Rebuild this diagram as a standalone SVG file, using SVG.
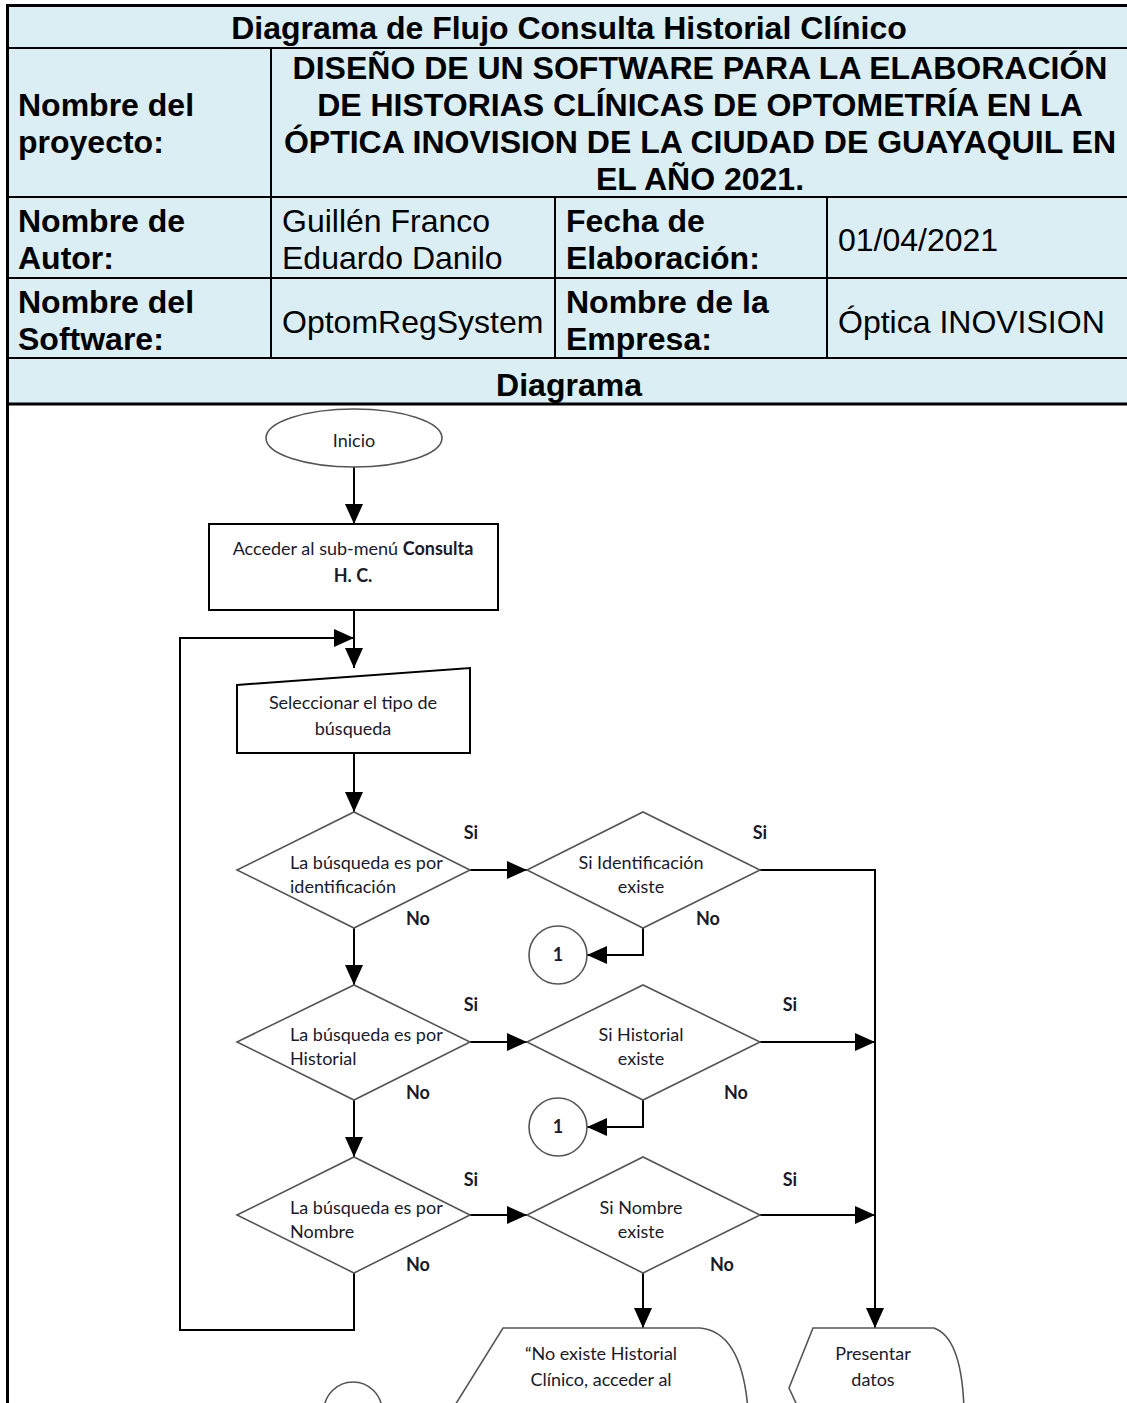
<svg xmlns="http://www.w3.org/2000/svg" width="1127" height="1403" viewBox="0 0 1127 1403">
<defs>
<style>
.hd{font-family:"Liberation Sans",Arial,sans-serif;font-size:32px;fill:#000}
.b{font-weight:bold}
.grid{stroke:#000;stroke-width:2;fill:none}
.ft{font-family:Lato,"Open Sans",sans-serif;font-size:18px;fill:#1a1a2a}
.lbl{font-family:Lato,"Open Sans",sans-serif;font-size:18px;font-weight:bold;fill:#1a1a2a}
.shape{fill:#fff;stroke:#000;stroke-width:2}
.dia{fill:#fff;stroke:#555;stroke-width:1.6}
.conn{fill:none;stroke:#000;stroke-width:2}
</style>
<marker id="ah" viewBox="0 0 20 18" refX="20" refY="9" markerWidth="20" markerHeight="18" markerUnits="userSpaceOnUse" orient="auto">
<path d="M0,0 L20,9 L0,18 z" fill="#000"/>
</marker>
</defs>
<rect width="1127" height="1403" fill="#fff"/>
<g id="table">
<rect x="7" y="6" width="1140" height="398" fill="#DAEEF3"/>
<line class="grid" x1="7" y1="48" x2="1127" y2="48"/>
<line class="grid" x1="7" y1="197" x2="1127" y2="197"/>
<line class="grid" x1="7" y1="278" x2="1127" y2="278"/>
<line class="grid" x1="7" y1="358" x2="1127" y2="358"/>
<line class="grid" x1="271" y1="48" x2="271" y2="358"/>
<line class="grid" x1="555" y1="197" x2="555" y2="358"/>
<line class="grid" x1="827" y1="197" x2="827" y2="358"/>
<line x1="7" y1="5.5" x2="1127" y2="5.5" stroke="#000" stroke-width="3"/>
<line x1="7" y1="404" x2="1127" y2="404" stroke="#000" stroke-width="3"/>
<line x1="7.5" y1="4" x2="7.5" y2="1403" stroke="#000" stroke-width="3"/>
<text class="hd b" x="569" y="39" text-anchor="middle">Diagrama de Flujo Consulta Historial Clínico</text>
<text class="hd b" x="18" y="116">Nombre del</text>
<text class="hd b" x="18" y="153">proyecto:</text>
<text class="hd b" x="700" y="79" text-anchor="middle">DISEÑO DE UN SOFTWARE PARA LA ELABORACIÓN</text>
<text class="hd b" x="700" y="116" text-anchor="middle">DE HISTORIAS CLÍNICAS DE OPTOMETRÍA EN LA</text>
<text class="hd b" x="700" y="153" text-anchor="middle">ÓPTICA INOVISION DE LA CIUDAD DE GUAYAQUIL EN</text>
<text class="hd b" x="700" y="190" text-anchor="middle">EL AÑO 2021.</text>
<text class="hd b" x="18" y="232">Nombre de</text>
<text class="hd b" x="18" y="269">Autor:</text>
<text class="hd" x="282" y="232">Guillén Franco</text>
<text class="hd" x="282" y="269">Eduardo Danilo</text>
<text class="hd b" x="566" y="232">Fecha de</text>
<text class="hd b" x="566" y="269">Elaboración:</text>
<text class="hd" x="838" y="251">01/04/2021</text>
<text class="hd b" x="18" y="313">Nombre del</text>
<text class="hd b" x="18" y="350">Software:</text>
<text class="hd" x="282" y="333">OptomRegSystem</text>
<text class="hd b" x="566" y="313">Nombre de la</text>
<text class="hd b" x="566" y="350">Empresa:</text>
<text class="hd" x="838" y="333">Óptica INOVISION</text>
<text class="hd b" x="569" y="396" text-anchor="middle">Diagrama</text>
</g>
<g id="connectors">
<path class="conn" d="M354,467 V524" marker-end="url(#ah)"/>
<path class="conn" d="M354,610 V668" marker-end="url(#ah)"/>
<path class="conn" d="M354,1273 V1330 H180 V638 H354" marker-end="url(#ah)"/>
<path class="conn" d="M354,753 V812" marker-end="url(#ah)"/>
<path class="conn" d="M470,870 H527" marker-end="url(#ah)"/>
<path class="conn" d="M760,870 H875 V1328" marker-end="url(#ah)"/>
<path class="conn" d="M643,928 V955 H587" marker-end="url(#ah)"/>
<path class="conn" d="M354,928 V985" marker-end="url(#ah)"/>
<path class="conn" d="M470,1042 H527" marker-end="url(#ah)"/>
<path class="conn" d="M760,1042 H875" marker-end="url(#ah)"/>
<path class="conn" d="M643,1100 V1127 H587" marker-end="url(#ah)"/>
<path class="conn" d="M354,1100 V1157" marker-end="url(#ah)"/>
<path class="conn" d="M470,1215 H527" marker-end="url(#ah)"/>
<path class="conn" d="M760,1215 H875" marker-end="url(#ah)"/>
<path class="conn" d="M643,1273 V1328" marker-end="url(#ah)"/>
</g>
<g id="inicio">
<ellipse class="dia" cx="354" cy="438" rx="88" ry="29"/>
<text class="ft" x="354" y="447" text-anchor="middle" font-size="20">Inicio</text>
</g>
<g id="acceder">
<rect class="shape" x="209" y="524" width="289" height="86"/>
<text class="ft" x="353" y="555" text-anchor="middle">Acceder al sub-menú <tspan font-weight="bold">Consulta</tspan></text>
<text class="ft" x="353" y="582" text-anchor="middle" font-weight="bold">H. C.</text>
</g>
<g id="seleccionar">
<polygon class="shape" points="237,685 470,668 470,753 237,753"/>
<text class="ft" x="353" y="709" text-anchor="middle">Seleccionar el tipo de</text>
<text class="ft" x="353" y="735" text-anchor="middle">búsqueda</text>
</g>
<g id="dec-ident">
<polygon class="dia" points="237,870 354,812 470,870 354,928"/>
<text class="ft" x="290" y="869">La búsqueda es por</text>
<text class="ft" x="290" y="893">identificación</text>
</g>
<g id="dec-ident-existe">
<polygon class="dia" points="527,870 643,812 760,870 643,928"/>
<text class="ft" x="641" y="869" text-anchor="middle">Si Identificación</text>
<text class="ft" x="641" y="893" text-anchor="middle">existe</text>
</g>
<g id="con1a">
<circle class="dia" cx="558" cy="955" r="29"/>
<text class="lbl" x="558" y="961" text-anchor="middle" font-size="16">1</text>
</g>
<g id="dec-hist">
<polygon class="dia" points="237,1042 354,985 470,1042 354,1100"/>
<text class="ft" x="290" y="1041">La búsqueda es por</text>
<text class="ft" x="290" y="1065">Historial</text>
</g>
<g id="dec-hist-existe">
<polygon class="dia" points="527,1042 643,985 760,1042 643,1100"/>
<text class="ft" x="641" y="1041" text-anchor="middle">Si Historial</text>
<text class="ft" x="641" y="1065" text-anchor="middle">existe</text>
</g>
<g id="con1b">
<circle class="dia" cx="558" cy="1127" r="29"/>
<text class="lbl" x="558" y="1133" text-anchor="middle" font-size="16">1</text>
</g>
<g id="dec-nombre">
<polygon class="dia" points="237,1215 354,1157 470,1215 354,1273"/>
<text class="ft" x="290" y="1214">La búsqueda es por</text>
<text class="ft" x="290" y="1238">Nombre</text>
</g>
<g id="dec-nombre-existe">
<polygon class="dia" points="527,1215 643,1157 760,1215 643,1273"/>
<text class="ft" x="641" y="1214" text-anchor="middle">Si Nombre</text>
<text class="ft" x="641" y="1238" text-anchor="middle">existe</text>
</g>
<g id="labels">
<text class="lbl" x="471" y="839" text-anchor="middle">Si</text>
<text class="lbl" x="760" y="839" text-anchor="middle">Si</text>
<text class="lbl" x="418" y="925" text-anchor="middle">No</text>
<text class="lbl" x="708" y="925" text-anchor="middle">No</text>
<text class="lbl" x="471" y="1011" text-anchor="middle">Si</text>
<text class="lbl" x="790" y="1011" text-anchor="middle">Si</text>
<text class="lbl" x="418" y="1099" text-anchor="middle">No</text>
<text class="lbl" x="736" y="1099" text-anchor="middle">No</text>
<text class="lbl" x="471" y="1186" text-anchor="middle">Si</text>
<text class="lbl" x="790" y="1186" text-anchor="middle">Si</text>
<text class="lbl" x="418" y="1271" text-anchor="middle">No</text>
<text class="lbl" x="722" y="1271" text-anchor="middle">No</text>
</g>
<g id="no-existe">
<path class="dia" d="M452,1410 L503,1328 H700 Q742,1332 748,1410"/>
<text class="ft" x="601" y="1360" text-anchor="middle">“No existe Historial</text>
<text class="ft" x="601" y="1386" text-anchor="middle">Clínico, acceder al</text>
</g>
<g id="presentar">
<path class="dia" d="M813,1440 L789,1388 L813,1328 H934 Q962,1338 964,1410"/>
<text class="ft" x="873" y="1360" text-anchor="middle">Presentar</text>
<text class="ft" x="873" y="1386" text-anchor="middle">datos</text>
</g>
<g id="con1c">
<circle class="dia" cx="353" cy="1411" r="29"/>
</g>
</svg>
